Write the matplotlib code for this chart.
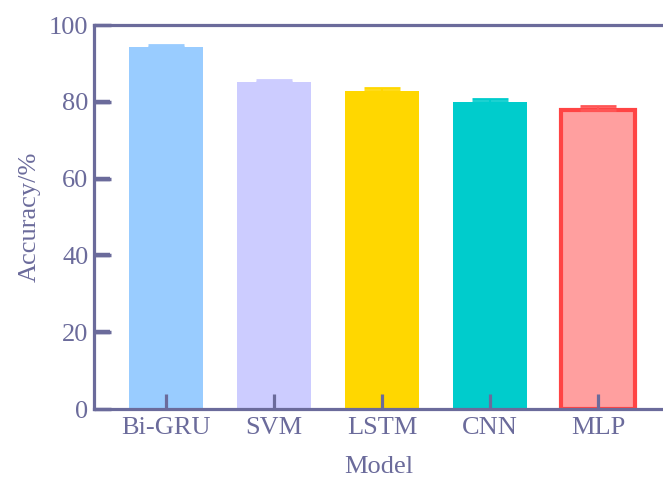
import numpy as np
import matplotlib.pyplot as plt

# data
models = ["Bi-GRU", "SVM", "LSTM", "CNN", "MLP"]
accuracy = [94.3, 85.2, 82.9, 79.9, 77.9]
err = [0.4, 0.5, 0.8, 0.8, 0.9]
fill_colors = ["#99ccff", "#ccccff", "#ffd700", "#00cccc", "#ff9f9f"]
edge_colors = ["#99ccff", "#ccccff", "#ffd700", "#00cccc", "#ff4444"]
err_colors = ["#99ccff", "#ccccff", "#ffd700", "#00cccc", "#ff5555"]
yticks = [0, 20, 40, 60, 80, 100]

axis_color = "#6b6b9b"
plt.rcParams["font.family"] = ["Liberation Serif", "DejaVu Serif"]

fig = plt.figure(figsize=(6.63, 4.79), dpi=100)
ax = fig.add_axes([0.1418, 0.1461, 0.8582, 0.8017])

x = np.arange(len(models))
for i in range(len(models)):
    lw = 3 if i == 4 else 0
    ax.bar(x[i], accuracy[i], width=0.68, color=fill_colors[i],
           edgecolor=edge_colors[i], linewidth=lw, zorder=1)
    ax.errorbar(x[i], accuracy[i], yerr=[[0], [err[i]]], fmt="none",
                ecolor=err_colors[i], elinewidth=1.5, capsize=13, capthick=2, zorder=1.5)

ax.set_axisbelow(False)
ax.set_xlim(-0.667, 4.6)
ax.set_ylim(0, 100)
ax.set_xticks(x)
ax.set_xticklabels(models)
ax.set_yticks(yticks)

for s in ["left", "top", "bottom"]:
    ax.spines[s].set_color(axis_color)
    ax.spines[s].set_linewidth(2.3)
ax.spines["right"].set_visible(False)

ax.tick_params(axis="x", direction="in", length=11, width=2.3, color=axis_color,
               labelcolor=axis_color, labelsize=19, pad=6)
ax.tick_params(axis="y", direction="in", length=12, width=2.5, color=axis_color,
               labelcolor=axis_color, labelsize=19, pad=4)

# y tick marks drawn again on top so they always show
ax.hlines(yticks[1:-1], 0, 0.028, transform=ax.get_yaxis_transform(),
          colors=axis_color, linewidth=3.2, zorder=6, clip_on=False)

ax.set_xlabel("Model", fontsize=19, color=axis_color, labelpad=12)
ax.set_ylabel("Accuracy/%", fontsize=19, color=axis_color, labelpad=6)

fig.savefig("out.png", dpi=100)
